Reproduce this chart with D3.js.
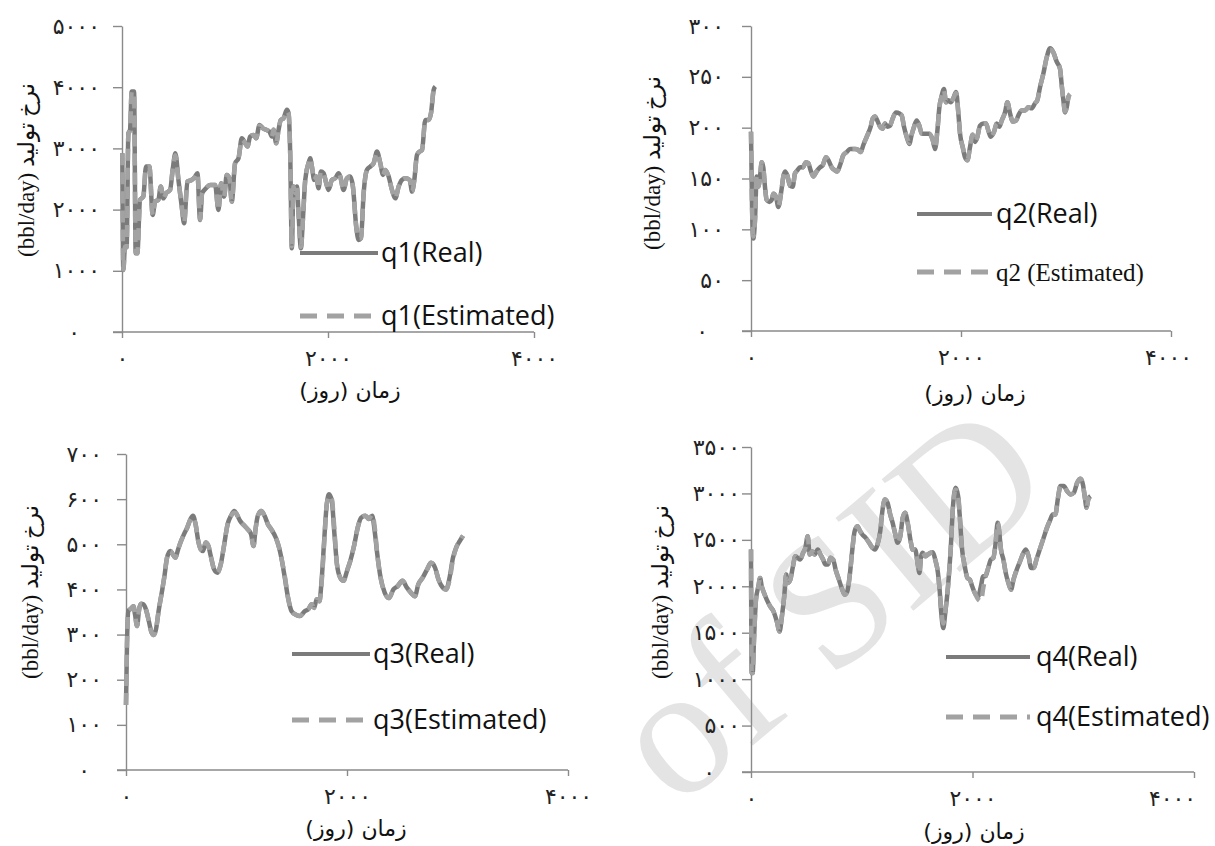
<!DOCTYPE html>
<html>
<head>
<meta charset="utf-8">
<script src="https://cdn.jsdelivr.net/npm/d3@7"></script>
<style>
  body { margin: 0; background: #fff; }
  svg { display: block; }
</style>
</head>
<body>
<svg id="chart" width="1215" height="846"></svg>
<script>
// values (day, bbl/day)
const q1Days = [3,13,29,45,62,78,94,117,133,149,175,207,233,266,298,321,353,376,402,428,467,492,518,548,580,603,635,677,710,732,758,778,816,855,904,936,962,991,1017,1043,1066,1098,1131,1163,1196,1218,1244,1277,1302,1335,1367,1400,1432,1455,1471,1497,1520,1542,1568,1601,1617,1633,1649,1665,1682,1698,1714,1737,1756,1779,1811,1827,1844,1866,1886,1908,1931,1957,1983,2006,2038,2070,2103,2119,2151,2184,2216,2242,2274,2297,2320,2346,2378,2411,2443,2475,2508,2534,2556,2589,2621,2654,2686,2718,2751,2793,2816,2838,2864,2890,2913,2945,2978,3000,3026,3042];
const q1Real = [2921,1014,1395,1395,3248,3303,3929,3929,1286,1286,2158,2213,2703,2703,1913,2131,2158,2376,2185,2267,2322,2649,2921,2485,2049,1777,2458,2485,2540,2594,1831,2267,2349,2403,2403,1995,2431,2213,2567,2512,2131,2758,2839,3166,3085,3030,3194,3221,3166,3384,3330,3303,3275,3194,3303,3085,3303,3466,3493,3630,3575,2921,1368,2376,2267,2376,1940,1368,1831,2485,2758,2839,2703,2485,2540,2349,2621,2594,2431,2322,2485,2512,2594,2540,2322,2512,2540,2376,1722,1504,1531,2267,2649,2703,2758,2948,2758,2567,2649,2540,2322,2185,2376,2485,2512,2485,2294,2485,2894,2948,2976,3466,3466,3575,3957,4011];
const q1Est = [2921,1020,1395,1380,3230,3303,3929,3900,1300,1286,2158,2213,2690,2703,1913,2131,2158,2376,2185,2267,2322,2649,2890,2485,2049,1790,2458,2485,2540,2594,1840,2267,2349,2403,2403,1995,2431,2213,2567,2512,2131,2758,2839,3140,3085,3030,3194,3221,3166,3370,3330,3303,3275,3194,3303,3085,3303,3466,3493,3610,3575,2921,1400,2376,2267,2376,1940,1390,1831,2485,2758,2839,2703,2485,2540,2349,2621,2594,2431,2322,2485,2512,2594,2540,2322,2512,2540,2376,1722,1530,1531,2267,2649,2703,2758,2925,2758,2567,2649,2540,2322,2185,2376,2485,2512,2485,2294,2485,2894,2948,2976,3466,3466,3575,3957,3990];

const q2Days = [0,10,22,38,54,70,86,102,117,133,149,175,197,213,238,260,292,308,324,346,371,397,419,441,467,492,524,546,568,594,625,657,683,714,737,768,800,822,848,879,911,943,991,1022,1045,1070,1102,1140,1159,1181,1203,1229,1254,1276,1299,1324,1349,1381,1413,1435,1457,1483,1508,1530,1553,1578,1603,1626,1657,1699,1730,1753,1775,1794,1813,1838,1857,1880,1902,1927,1953,1975,1991,2016,2038,2061,2086,2111,2134,2156,2181,2213,2238,2261,2283,2315,2340,2365,2388,2419,2442,2467,2492,2524,2546,2578,2610,2642,2673,2705,2727,2753,2784,2816,2848,2880,2911,2943,2959,2975,2991,3007,3023,3038];
const q2Real = [196,122,91,109,152,142,152,166,161,142,129,127,129,135,132,122,140,152,157,153,143,142,155,158,161,161,166,165,158,152,157,161,163,171,168,161,158,157,163,173,176,179,179,178,176,183,191,201,209,211,207,201,199,204,201,202,209,215,214,212,201,191,184,193,201,207,202,194,194,194,188,179,197,220,230,238,225,227,225,229,235,214,194,181,171,168,181,193,186,191,202,204,204,197,191,196,204,201,207,215,225,214,206,207,212,217,217,220,219,224,227,240,253,269,278,274,265,258,242,227,215,220,230,233];
const q2Est = [196,122,93,109,152,142,152,166,161,142,129,127,129,135,132,123,140,152,157,153,143,142,155,158,161,161,166,165,158,152,157,161,163,171,168,161,158,157,163,173,176,179,179,178,176,183,191,201,209,211,207,201,199,204,201,202,209,215,214,212,201,191,185,193,201,207,202,194,194,194,188,180,197,220,230,237,225,227,225,229,234,214,194,181,172,168,181,193,186,191,202,204,204,197,191,196,204,201,207,215,225,214,206,207,212,217,217,220,219,224,227,240,253,269,277,274,265,258,242,227,216,220,230,233];

const q3Days = [0,9,21,37,52,67,82,100,119,137,158,180,204,228,250,271,295,326,350,371,402,423,447,472,493,524,554,584,606,630,654,676,697,721,746,767,798,828,858,889,919,950,980,1001,1032,1072,1102,1132,1154,1172,1193,1224,1254,1285,1315,1355,1385,1406,1437,1467,1498,1537,1574,1619,1650,1680,1702,1726,1750,1772,1793,1817,1838,1863,1884,1909,1939,1969,2000,2030,2067,2097,2128,2167,2198,2228,2250,2274,2304,2341,2380,2420,2457,2502,2542,2578,2615,2645,2685,2724,2761,2797,2828,2867,2898,2928,2959,2989,3020,3050];
const q3Real = [144,278,352,356,359,363,344,319,356,368,367,356,333,307,299,311,352,396,433,470,485,478,470,489,504,522,537,556,563,544,507,489,485,504,496,474,444,437,456,500,544,563,574,567,552,541,533,522,496,533,563,574,563,544,533,515,493,470,426,381,352,344,341,352,356,367,359,378,374,426,507,589,611,596,530,456,426,419,441,463,500,537,559,563,556,563,530,478,426,393,381,400,407,419,404,393,385,411,426,444,459,448,422,404,400,426,470,493,507,519];
const q3Est = [144,278,352,356,359,363,344,319,356,368,367,356,333,307,299,311,352,396,433,470,485,478,470,489,504,522,537,556,560,544,507,489,485,504,496,474,444,437,456,500,544,563,570,567,552,541,533,522,496,533,563,574,563,544,533,515,493,470,430,381,352,344,341,352,356,367,359,378,374,420,500,589,607,600,540,456,426,419,441,463,500,537,559,563,556,566,540,478,426,393,381,400,407,419,404,393,385,411,426,444,459,448,422,404,400,420,466,493,507,519];

const q4Days = [0,6,15,27,45,67,82,97,118,142,173,203,233,258,279,300,318,330,355,379,400,421,445,470,491,512,530,551,573,603,627,651,673,694,718,742,764,794,824,845,870,894,915,936,961,985,1006,1036,1067,1097,1118,1142,1167,1188,1209,1233,1257,1279,1300,1324,1348,1370,1391,1415,1439,1460,1482,1506,1521,1536,1551,1573,1597,1621,1642,1663,1688,1703,1718,1736,1754,1779,1803,1824,1848,1870,1885,1906,1930,1954,1976,1997,2021,2051,2076,2097,2118,2142,2166,2188,2209,2227,2239,2257,2279,2300,2324,2348,2370,2400,2430,2460,2482,2506,2530,2551,2582,2612,2642,2672,2703,2724,2748,2772,2794,2824,2854,2885,2915,2945,2975,2997,3015,3030,3045,3066];
const q4Real = [2396,1065,1065,1424,1856,2000,2090,2000,1928,1856,1784,1730,1622,1514,1676,1892,2126,2036,2072,2216,2324,2306,2288,2360,2414,2539,2342,2378,2342,2396,2342,2288,2234,2234,2306,2288,2180,2072,1964,1910,1946,2144,2396,2593,2647,2593,2557,2521,2468,2414,2396,2450,2593,2827,2935,2899,2773,2683,2575,2468,2539,2737,2791,2683,2503,2396,2396,2234,2144,2324,2360,2324,2342,2360,2367,2288,2144,1964,1712,1550,1712,2000,2396,2863,3061,2971,2755,2396,2216,2090,2072,2000,1928,1892,2000,2108,2108,2198,2288,2306,2468,2683,2611,2396,2288,2144,2036,1964,2072,2180,2270,2360,2396,2324,2198,2198,2306,2414,2521,2629,2719,2773,2773,2953,3079,3079,3025,2989,3007,3115,3158,3097,2953,2845,2935,2971];
const q4Est = [2396,1065,1065,1424,1856,2000,2090,2000,1928,1856,1784,1730,1622,1514,1676,1892,2126,2036,2072,2216,2324,2306,2288,2360,2414,2539,2342,2378,2342,2396,2342,2288,2234,2234,2306,2288,2180,2072,1964,1910,1946,2144,2396,2593,2647,2593,2557,2521,2468,2414,2396,2450,2593,2827,2935,2899,2773,2683,2575,2468,2539,2737,2791,2683,2503,2396,2396,2234,2144,2324,2360,2324,2342,2360,2367,2288,2144,1964,1740,1600,1730,2000,2396,2863,3040,2990,2755,2396,2216,2090,2072,2000,1928,1860,1840,1980,2108,2198,2288,2306,2468,2683,2611,2396,2288,2144,2036,1964,2072,2180,2270,2360,2396,2324,2198,2198,2306,2414,2521,2629,2719,2773,2773,2953,3079,3079,3025,2989,3007,3115,3158,3097,2953,2845,2935,2971];

const xTicks = [0, 2000, 4000];
const q1Ticks = [0, 1000, 2000, 3000, 4000, 5000];
const q2Ticks = [0, 50, 100, 150, 200, 250, 300];
const q3Ticks = [0, 100, 200, 300, 400, 500, 600, 700];
const q4Ticks = [0, 500, 1000, 1500, 2000, 2500, 3000, 3500];

const q1Labels = ['q1(Real)', 'q1(Estimated)'];
const q2Labels = ['q2(Real)', 'q2 (Estimated)'];
const q3Labels = ['q3(Real)', 'q3(Estimated)'];
const q4Labels = ['q4(Real)', 'q4(Estimated)'];

const yTitle = '(bbl/day) نرخ تولید';
const xTitle = 'زمان (روز)';

const faDigits = '۰۱۲۳۴۵۶۷۸۹';
const toFa = (n) => String(n).replace(/\d/g, (d) => faDigits[d]);

const realColor = '#7b7b7b';
const estColor = '#a2a2a2';
const axisColor = '#8a8a8a';

const panels = [
    { days: q1Days, real: q1Real, est: q1Est, ticks: q1Ticks, labels: q1Labels,
      left: 122, right: 534, top: 26, bottom: 332, labEnd: 100, zeroDx: -20, lastDx: 0,
      ytX: 26, ytY: 170, xtX: 350, xtY: 390,
      lx1: 300, lx2: 378, ltx: 381, ly1: 253, ly2: 316, estSerif: false },
    { days: q2Days, real: q2Real, est: q2Est, ticks: q2Ticks, labels: q2Labels,
      left: 751, right: 1171, top: 26, bottom: 331, labEnd: 724, zeroDx: -16, lastDx: -3,
      ytX: 652, ytY: 163, xtX: 975, xtY: 393,
      lx1: 917, lx2: 992, ltx: 996, ly1: 214, ly2: 272, estSerif: true },
    { days: q3Days, real: q3Real, est: q3Est, ticks: q3Ticks, labels: q3Labels,
      left: 126, right: 568, top: 454, bottom: 770, labEnd: 102, zeroDx: -12, lastDx: 0,
      ytX: 30, ytY: 592, xtX: 356, xtY: 828,
      lx1: 292, lx2: 370, ltx: 373, ly1: 654, ly2: 720, estSerif: false },
    { days: q4Days, real: q4Real, est: q4Est, ticks: q4Ticks, labels: q4Labels,
      left: 751, right: 1194, top: 447, bottom: 772, labEnd: 740, zeroDx: -25, lastDx: -22,
      ytX: 660, ytY: 592, xtX: 974, xtY: 831,
      lx1: 946, lx2: 1030, ltx: 1036, ly1: 657, ly2: 717, estSerif: false },
];

const svg = d3.select('#chart');

// watermark behind everything
svg.append('text')
    .attr('transform', 'translate(676, 810) rotate(-40)')
    .attr('font-family', 'Liberation Serif')
    .attr('font-size', 185)
    .attr('fill', '#e4e4e4')
    .text('of SID');

panels.forEach((p) => {
    const x = d3.scaleLinear().domain([0, 4000]).range([p.left, p.right]);
    const y = d3.scaleLinear().domain([0, d3.max(p.ticks)]).range([p.bottom, p.top]);
    const g = svg.append('g');

    const yAxis = g.append('g')
        .attr('transform', `translate(${p.left},0)`)
        .call(d3.axisLeft(y).tickValues(p.ticks).tickSize(9).tickSizeOuter(0)
            .tickPadding(p.left - 9 - p.labEnd).tickFormat(toFa));
    const xAxis = g.append('g')
        .attr('transform', `translate(0,${p.bottom})`)
        .call(d3.axisBottom(x).tickValues(xTicks).tickSize(6).tickSizeOuter(0)
            .tickPadding(12).tickFormat(toFa));

    [yAxis, xAxis].forEach((a) => {
        a.selectAll('path, line').attr('stroke', axisColor).attr('stroke-width', 1.4);
        a.selectAll('text')
            .attr('fill', '#222')
            .attr('font-family', 'DejaVu Sans')
            .attr('font-size', 22)
            .attr('letter-spacing', 1.5);
    });
    // x axis runs a little to the left of the y axis
    xAxis.select('.domain').attr('d', `M${p.left - 9},0H${p.right}`);
    yAxis.selectAll('.tick').filter((d) => d === 0).select('text').attr('dx', p.zeroDx);
    xAxis.selectAll('.tick').filter((d) => d === 4000).select('text').attr('dx', p.lastDx);

    const line = (vals) => d3.line()
        .x((d, i) => x(p.days[i]))
        .y((d) => y(d))
        .curve(d3.curveMonotoneX)(vals);

    g.append('path')
        .attr('d', line(p.real))
        .attr('fill', 'none')
        .attr('stroke', realColor)
        .attr('stroke-width', 4.5)
        .attr('stroke-linejoin', 'round');
    g.append('path')
        .attr('d', line(p.est))
        .attr('fill', 'none')
        .attr('stroke', estColor)
        .attr('stroke-width', 4.5)
        .attr('stroke-dasharray', '12,7');

    // legend
    g.append('line')
        .attr('x1', p.lx1).attr('x2', p.lx2).attr('y1', p.ly1).attr('y2', p.ly1)
        .attr('stroke', realColor).attr('stroke-width', 4);
    g.append('line')
        .attr('x1', p.lx1).attr('x2', p.lx2).attr('y1', p.ly2).attr('y2', p.ly2)
        .attr('stroke', estColor).attr('stroke-width', 5)
        .attr('stroke-dasharray', '17,10');
    g.append('text')
        .attr('x', p.ltx).attr('y', p.ly1).attr('dy', '0.35em')
        .attr('font-family', 'Open Sans').attr('font-size', 27).attr('fill', '#111')
        .text(p.labels[0]);
    g.append('text')
        .attr('x', p.ltx).attr('y', p.ly2).attr('dy', '0.35em')
        .attr('font-family', p.estSerif ? 'Liberation Serif' : 'Open Sans')
        .attr('font-size', p.estSerif ? 25 : 27).attr('fill', '#111')
        .text(p.labels[1]);

    // axis titles
    g.append('text')
        .attr('transform', `translate(${p.ytX},${p.ytY}) rotate(-90)`)
        .attr('text-anchor', 'middle').attr('dy', '0.35em')
        .attr('font-family', 'Liberation Serif, DejaVu Sans')
        .attr('font-size', 23).attr('fill', '#111')
        .text(yTitle);
    g.append('text')
        .attr('x', p.xtX).attr('y', p.xtY).attr('dy', '0.35em')
        .attr('text-anchor', 'middle')
        .style('direction', 'rtl')
        .attr('font-family', 'DejaVu Sans')
        .attr('font-size', 22).attr('fill', '#111')
        .text(xTitle);
});
</script>
</body>
</html>
